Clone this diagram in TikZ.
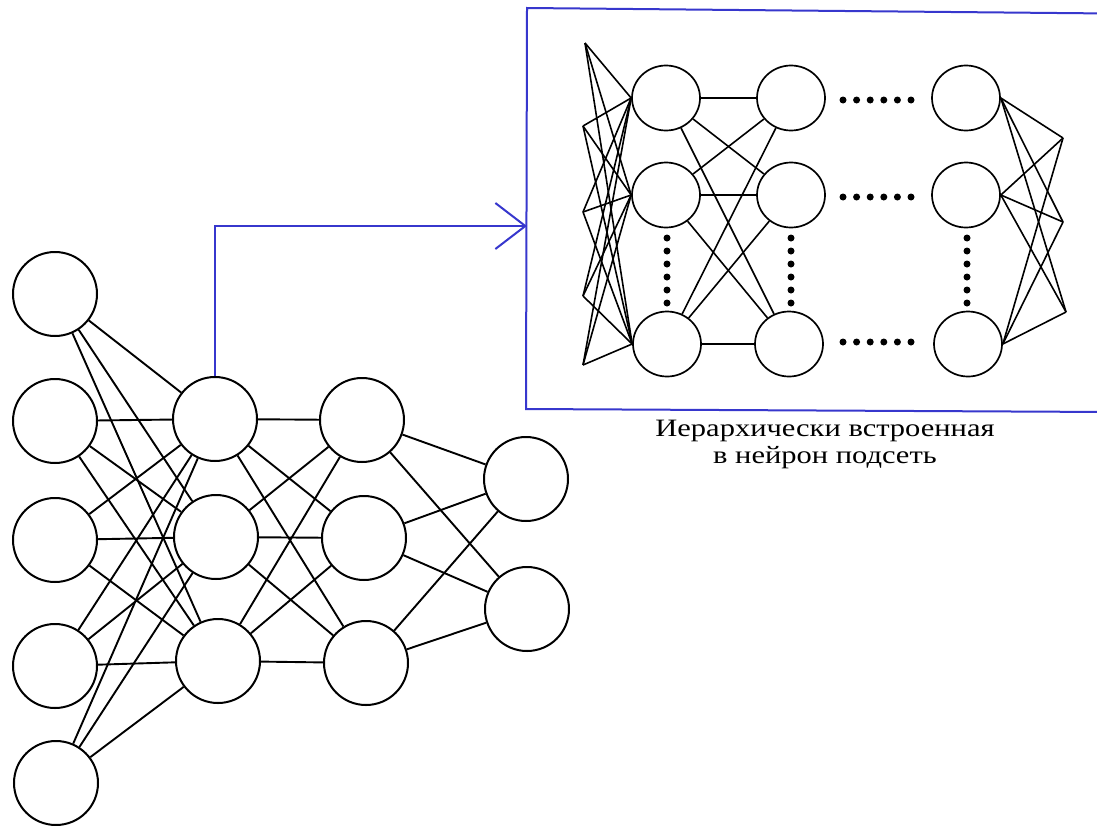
\documentclass[tikz,border=0pt]{standalone}
\usepackage{fontspec}
\setmainfont{Liberation Serif}
\usetikzlibrary{shapes.geometric,arrows.meta}
\definecolor{linkblue}{RGB}{55,55,205}
\tikzset{
  neuron/.style={circle,draw=black,line width=2pt,minimum size=84pt,inner sep=0pt,fill=white},
  subneuron/.style={ellipse,draw=black,line width=1.7pt,minimum width=68pt,minimum height=65pt,inner sep=0pt,fill=white},
  edge/.style={draw=black,line width=1.9pt},
  subedge/.style={draw=black,line width=1.6pt},
  dotmark/.style={circle,fill=black,minimum size=7pt,inner sep=0pt},
  bluelink/.style={draw=linkblue,line width=2pt}
}
\begin{document}
\begin{tikzpicture}[x=1pt,y=-1pt]
\useasboundingbox (0,0) rectangle (1097,825);

% ---------- big network ----------
\node[neuron] (i1) at (55,294) {};
\node[neuron] (i2) at (55,421) {};
\node[neuron] (i3) at (55,540) {};
\node[neuron] (i4) at (55,666) {};
\node[neuron] (i5) at (56,783) {};
\node[neuron] (a1) at (215,419) {};
\node[neuron] (a2) at (216,537) {};
\node[neuron] (a3) at (218,661) {};
\node[neuron] (b1) at (362,420) {};
\node[neuron] (b2) at (364,538) {};
\node[neuron] (b3) at (366,663) {};
\node[neuron] (c1) at (526,479) {};
\node[neuron] (c2) at (527,609) {};

\foreach \s in {i1,i2,i3,i4,i5}{
  \foreach \t in {a1,a2,a3}{\path[edge] (\s) -- (\t);}
}
\foreach \s in {a1,a2,a3}{
  \foreach \t in {b1,b2,b3}{\path[edge] (\s) -- (\t);}
}
\foreach \s in {b1,b2,b3}{
  \foreach \t in {c1,c2}{\path[edge] (\s) -- (\t);}
}

% ---------- sub-network box ----------
\coordinate (boxtl) at (527,8);
\coordinate (boxbl) at (526,409);
\coordinate (boxtr) at (1110,13.5);
\coordinate (boxbr) at (1110,412);
\path[bluelink] (boxtr) -- (boxtl) -- (boxbl) -- (boxbr);

\coordinate (tip) at (527,226);
\path[bluelink,-{Straight Barb[length=30pt,width=46pt,line width=2pt]}] (a1.north) |- (tip);

% ---------- inner network ----------
\coordinate (p1) at (585,43);
\coordinate (p2) at (583,126);
\coordinate (p3) at (583,212);
\coordinate (p4) at (583,296);
\coordinate (p5) at (583,365);

\node[subneuron] (e11) at (666,98) {};
\node[subneuron] (e12) at (666,195) {};
\node[subneuron] (e13) at (667,344) {};
\node[subneuron] (e21) at (791,98) {};
\node[subneuron] (e22) at (791,195) {};
\node[subneuron] (e23) at (789,344) {};
\node[subneuron] (e31) at (966,98) {};
\node[subneuron] (e32) at (966,195) {};
\node[subneuron] (e33) at (968,344) {};

\coordinate (q1) at (1063,138);
\coordinate (q2) at (1063,222);
\coordinate (q3) at (1066,312);

\foreach \s in {p1,p2,p3,p4,p5}{
  \foreach \t in {e11,e12,e13}{\path[subedge] (\s) -- (\t.west);}
}
\foreach \s in {e11,e12,e13}{
  \foreach \t in {e21,e22,e23}{\path[subedge] (\s) -- (\t);}
}
\foreach \s in {e31,e32,e33}{
  \foreach \t in {q1,q2,q3}{\path[subedge] (\s.east) -- (\t);}
}

% dots
\foreach \yy [count=\r] in {100,197,342}{
  \foreach \k in {0,...,5}{
    \node[dotmark] (hd\r\k) at ({843+13.6*\k},\yy) {};
  }
}
\foreach \xx [count=\c] in {667,791,967}{
  \foreach \k in {0,...,5}{
    \node[dotmark] (vd\c\k) at (\xx,{238+13*\k}) {};
  }
}

% caption
\node[align=center,font=\fontsize{25}{27}\selectfont,inner sep=0pt,transform shape,xscale=1.22] (cap) at (825,444)
  {Иерархически встроенная\\в нейрон подсеть};
\end{tikzpicture}
\end{document}
